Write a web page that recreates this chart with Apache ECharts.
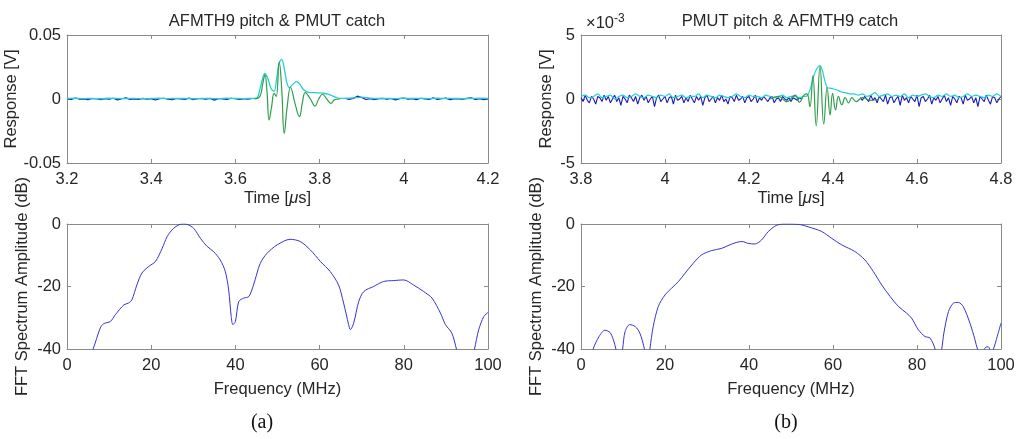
<!DOCTYPE html>
<html><head><meta charset="utf-8">
<script src="https://cdn.jsdelivr.net/npm/echarts@6/dist/echarts.min.js"></script>
<style>html,body{margin:0;padding:0;background:#fff}#c{width:1024px;height:439px}</style>
</head><body><div id="c"></div>
<script>
// ---------- Panel (a) top: AFMTH9 pitch & PMUT catch (Response, V) ----------
const aTimeTicks = [3.2, 3.4, 3.6, 3.8, 4, 4.2];
const aBlueStart = 3.20, aBlueStep = 0.01;
const aBlueV = [
  0.0003,-0.0004,0.0008,-0.0002,0.0001,-0.0005,0.0004,0.0002,-0.0006,0.0003,
  -0.0001,0.0006,-0.0007,0.0002,0.0009,-0.0003,0.0001,-0.0004,0.0005,-0.0002,
  0.0003,-0.0008,0.0002,0.0006,-0.0001,-0.0005,0.0004,0.0001,-0.0003,0.0007,
  -0.0006,0.0002,0.0003,-0.0002,0.0005,-0.0009,0.0004,0.0001,-0.0003,0.0006,
  0.0002,-0.0004,0.0003,-0.0001,0.0004,
  null,null,null,null,null,null,null,null,null,null,null,null,null,null,null,null,null,null,null,null,null,
  0.0006,-0.0003,0.0004,0.0022,0.0012,-0.0004,0.0003,-0.0006,0.0002,0.0005,
  -0.0002,0.0004,-0.0007,0.0003,0.0008,-0.0001,0.0002,-0.0005,0.0006,0.0001,
  -0.0003,0.0009,-0.0004,0.0002,0.0007,-0.0006,0.0003,0.0001,-0.0002,0.0005,
  0.0010,-0.0004,0.0003,-0.0005,0.0002
];
const aGreenT = [3.645,3.658,3.665,3.670,3.675,3.680,3.686,3.692,3.697,3.704,3.710,3.716,3.723,3.731,3.742,3.752,3.759,3.766,3.778,3.789,3.798,3.807,3.817,3.827,3.836,3.848];
const aGreenV = [0,0.002,0.012,0.019,0.006,-0.0164,-0.006,0.0044,0.002,0.029,0.008,-0.0268,-0.006,0.009,-0.004,-0.0138,-0.003,0.005,0,-0.0055,0,0.0037,0,-0.0034,-0.0005,0];
const aCyanPreStart = 3.20, aCyanStep = 0.02;
const aCyanPreV = [0.0004,0.0006,0.0003,0.0005,0.0002,0.0006,0.0004,0.0003,0.0005,0.0002,0.0004,0.0006,0.0003,0.0005,0.0004,0.0002,0.0005,0.0004,0.0003,0.0006,0.0004,0.0003,0.0005];
const aCyanBurstT = [3.645,3.652,3.660,3.670,3.677,3.685,3.692,3.698,3.704,3.710,3.716,3.722,3.728,3.735,3.745,3.752,3.760,3.770,3.780,3.790,3.800,3.810,3.820,3.830,3.840,3.848];
const aCyanBurstV = [0.0005,0.001,0.010,0.020,0.016,0.008,0.006,0.016,0.028,0.031,0.024,0.013,0.009,0.011,0.0135,0.012,0.008,0.0055,0.005,0.005,0.0048,0.0045,0.0038,0.0025,0.0012,0.0005];
const aCyanPostStart = 3.86;
const aCyanPostV = [0.0005,0.0008,0.0015,0.0006,0.0004,0.0005,0.0003,0.0006,0.0004,0.0005,0.0003,0.0006,0.0004,0.0005,0.0003,0.0004,0.0006,0.0004];

// ---------- Panel (b) top: PMUT pitch & AFMTH9 catch (Response, x10^-3 V) ----------
const bTimeTicks = [3.8, 4, 4.2, 4.4, 4.6, 4.8];
const bBlueStart = 3.80, bBlueStep = 0.005;
const bBlueV = [
  0.1,-0.2,0.3,-0.1,-0.3,0.2,0.0,-0.4,0.2,0.1,
  -0.2,0.3,-0.1,0.2,-0.3,0.0,0.3,-0.2,0.1,-0.5,
  0.2,0.0,-0.3,0.3,0.1,-0.2,0.2,-0.4,0.1,0.3,
  -0.1,0.2,-0.3,0.0,0.2,-0.6,0.1,0.3,-0.2,0.0,
  0.2,-0.3,0.1,0.2,-0.4,0.3,-0.1,0.0,0.2,-0.3,
  0.1,-0.2,0.3,0.0,-0.3,0.2,-0.1,0.2,-0.5,0.1,
  0.3,-0.2,0.0,0.2,-0.3,0.1,-0.1,0.3,-0.2,0.0,
  -0.4,0.2,0.1,-0.2,0.3,-0.1,0.0,0.2,-0.3,0.1,
  0.2,-0.2,0.0,0.3,-0.3,0.1,-0.1,0.2,0.0,-0.2,
  0.1,0.2,-0.3,0.0,0.1,-0.2,0.2,0.0,-0.1,0.1,
  -0.2,0.1,0.0,-0.1,0.1,0.0,
  null,null,null,null,null,null,null,null,null,null,null,null,null,null,null,null,null,null,null,null,null,null,null,null,null,null,null,
  0.1,-0.1,0.2,0.0,-0.2,0.3,-0.1,0.1,-0.3,0.2,
  0.0,-0.2,0.3,-0.4,0.1,0.2,-0.3,0.0,0.2,-0.5,
  0.3,-0.1,0.1,-0.3,0.2,0.0,-0.2,0.3,-0.6,0.1,
  0.2,-0.2,0.0,0.3,-0.4,0.1,-0.1,0.2,-0.3,0.0,
  0.3,-0.2,0.1,-0.5,0.2,0.0,-0.3,0.2,0.1,-0.4,
  0.3,-0.1,0.0,0.2,-0.3,0.1,-0.6,0.2,0.0,-0.2,
  0.3,-0.1,-0.4,0.2,0.1,-0.3,0.0,0.2
];
const bGreenT = [4.25,4.27,4.29,4.31,4.32,4.331,4.338,4.345,4.352,4.360,4.369,4.378,4.386,4.393,4.399,4.406,4.413,4.421,4.429,4.437,4.445,4.455,4.47,4.49,4.51];
const bGreenV = [0,0.2,-0.2,0.3,-0.25,0.3,0.4,-0.6,1.8,-2.1,2.55,-1.95,0.9,-1.25,0.45,-0.85,0.2,-0.45,0.1,-0.3,0.1,-0.2,0.1,-0.1,0];
const bCyanPreStart = 3.80, bCyanStep = 0.01;
const bCyanPreV = [
  0.2,0.3,0.1,0.2,0.4,0.1,0.2,0.3,0.0,0.2,
  0.3,0.1,0.2,0.4,0.2,0.1,0.3,0.2,0.1,0.3,
  0.2,0.4,0.1,0.2,0.3,0.1,0.2,0.2,0.4,0.1,
  0.3,0.2,0.1,0.3,0.2,0.1,0.2,0.4,0.2,0.1,
  0.3,0.2,0.2,0.1,0.3,0.2,0.1,0.2,0.3,0.1,
  0.2,0.2,0.1,0.2
];
const bCyanBurstT = [4.334,4.340,4.347,4.354,4.362,4.369,4.374,4.380,4.386,4.392,4.400,4.410,4.420,4.430,4.440];
const bCyanBurstV = [0.2,0.3,0.9,1.8,2.4,2.6,2.3,1.5,0.9,0.85,0.8,0.7,0.55,0.5,0.4];
const bCyanPostStart = 4.45;
const bCyanPostV = [
  0.4,0.3,0.4,0.2,0.3,0.5,0.2,0.3,0.4,0.2,
  0.3,0.2,0.4,0.1,0.3,0.2,0.3,0.4,0.2,0.1,
  0.3,0.2,0.4,0.2,0.3,0.1,0.2,0.4,0.2,0.3,
  0.2,0.1,0.3,0.2,0.4,0.2
];

// ---------- FFT spectra (dB) ----------
const freqTicks = [0, 20, 40, 60, 80, 100];
const aFftF = [4,6.2,7.9,8.7,10.3,11.5,13.5,14.6,15.4,16.6,17.8,19.4,21.0,22.6,23.8,25.3,26.9,27.7,28.5,30.1,31.7,33.3,34.8,36.4,37.6,38.4,39.0,39.4,40.0,40.8,42.0,43.2,44.3,45.9,47.5,49.9,53.0,55.4,57.8,60.2,62.5,64.5,65.7,66.9,67.3,68.1,69.3,70.5,72.8,75.2,77.6,80.0,82.3,84.7,86.7,88.7,89.9,91.4,92.5,94,95.5,96.8,97.8,99.0,100];
const aFftDb = [-47,-40,-33.3,-31.9,-31.2,-29.0,-25.9,-25.3,-24.3,-19.5,-15.7,-13.6,-12.0,-7.8,-4.0,-1.4,-0.1,0,-0.1,-1.4,-4.6,-7.2,-8.8,-11.5,-15.2,-21.1,-29.6,-32.2,-31.2,-24.8,-23.7,-23.2,-19.5,-12.6,-9.4,-6.7,-4.9,-5.6,-8.3,-12.0,-15.2,-19.5,-25.3,-32.2,-33.8,-31.7,-24.8,-21.6,-20.0,-18.4,-18.1,-17.9,-19.5,-21.6,-23.7,-28.5,-32.2,-34.9,-40,-48,-48,-40,-33.8,-29.6,-28.3];
const bFftF = [2,2.9,4.3,5.7,6.9,7.7,8.3,9.1,9.9,10.5,11.6,12.9,14.0,15.1,15.8,16.4,17.2,18.4,20.0,21.6,23.2,24.8,26.7,28.7,31.1,33.5,35.9,38.3,39.8,41.4,43.0,44.6,46.6,48.6,51.7,54.1,57.3,59.7,62.1,65.2,67.6,69.6,71.6,73.6,75.6,77.5,78.7,80.3,81.9,83.1,84.3,85.1,85.9,86.4,87.5,88.7,89.8,91.0,92.6,93.8,94.4,95.3,96.3,97.0,97.6,98.2,99.1,100];
const bFftDb = [-45,-40,-36.0,-34.0,-34.7,-37.0,-40,-46,-40,-34.4,-32.2,-32.8,-34.9,-40,-46,-40,-32.8,-26.4,-22.7,-20.5,-18.4,-15.7,-12.6,-9.9,-8.5,-7.8,-6.4,-5.6,-6.2,-6.4,-5.1,-2.4,-0.4,0,-0.1,-0.9,-2.4,-4.6,-6.7,-8.8,-11.5,-15.2,-19.5,-23.2,-26.4,-28.5,-30.1,-33.8,-36.0,-36.5,-40,-46,-40,-34.9,-28.0,-25.3,-25.1,-26.4,-31.7,-37.0,-40,-42,-39.5,-39.3,-41,-40,-36,-31.7];

// ---------- helpers ----------
const FONT = '"Liberation Sans", Arial, Helvetica, sans-serif';
const FS = 16.5;
const TX = '#262626';
const AX = '#8a8a8a';
const C_BLUE = '#1a1ab4', C_GREEN = '#2f9e4c', C_CYAN = '#22d0d0', C_FFT = '#3434d2';

function seg(start, step, vals) { return vals.map((v, i) => [+(start + i * step).toFixed(4), v]); }
function pairs(ts, vs) { return ts.map((t, i) => [t, vs[i]]); }
function fmtNum(v) { return String(Math.round(v * 1000) / 1000); }

function xAxes(grid, ticks, name, nameGap) {
  const min = ticks[0], max = ticks[ticks.length - 1], interval = ticks[1] - ticks[0];
  const common = { gridIndex: grid, type: 'value', min, max, interval: +interval.toFixed(4), splitLine: { show: false },
    axisLine: { show: true, onZero: false, lineStyle: { color: AX, width: 1 } },
    axisTick: { show: true, inside: true, length: 4, lineStyle: { color: AX } } };
  return [
    Object.assign({}, common, { position: 'bottom', name, nameLocation: 'middle', nameGap,
      nameTextStyle: { color: TX, fontSize: FS, fontFamily: FONT,
        rich: { mu: { fontStyle: 'italic', color: TX, fontSize: FS, fontFamily: FONT } } },
      axisLabel: { color: TX, fontSize: FS, fontFamily: FONT, margin: 8, formatter: fmtNum } }),
    Object.assign({}, common, { position: 'top', axisLabel: { show: false } })
  ];
}
function yAxes(grid, ticks, name, nameGap) {
  const min = ticks[0], max = ticks[ticks.length - 1], interval = ticks[1] - ticks[0];
  const common = { gridIndex: grid, type: 'value', min, max, interval, splitLine: { show: false },
    axisLine: { show: true, onZero: false, lineStyle: { color: AX, width: 1 } },
    axisTick: { show: true, inside: true, length: 4, lineStyle: { color: AX } } };
  return [
    Object.assign({}, common, { position: 'left', name, nameLocation: 'middle', nameGap, nameRotate: 90,
      nameTextStyle: { color: TX, fontSize: FS, fontFamily: FONT },
      axisLabel: { color: TX, fontSize: FS, fontFamily: FONT, margin: 6, formatter: fmtNum } }),
    Object.assign({}, common, { position: 'right', axisLabel: { show: false } })
  ];
}
function line(ax, data, color, width, smooth) {
  return { type: 'line', xAxisIndex: ax, yAxisIndex: ax, data, symbol: 'none', showSymbol: false,
    connectNulls: false, clip: true, smooth: smooth || false, silent: true,
    lineStyle: { color, width }, emphasis: { disabled: true } };
}

const respTicksA = [-0.05, 0, 0.05];
const respTicksB = [-5, 0, 5];
const fftTicks = [-40, -20, 0];

const option = {
  animation: false,
  backgroundColor: '#ffffff',
  grid: [
    { left: 67, top: 35, width: 421, height: 128 },
    { left: 67, top: 224, width: 421, height: 125 },
    { left: 581, top: 35, width: 420, height: 128 },
    { left: 581, top: 224, width: 420, height: 125 }
  ],
  xAxis: [].concat(
    xAxes(0, aTimeTicks, 'Time [{mu|μ}s]', 27),
    xAxes(1, freqTicks, 'Frequency (MHz)', 32),
    xAxes(2, bTimeTicks, 'Time [{mu|μ}s]', 27),
    xAxes(3, freqTicks, 'Frequency (MHz)', 32)
  ),
  yAxis: [].concat(
    yAxes(0, respTicksA, 'Response [V]', 34),
    yAxes(1, fftTicks, 'FFT Spectrum Amplitude (dB)', 36),
    yAxes(2, respTicksB, 'Response [V]', 26),
    yAxes(3, fftTicks, 'FFT Spectrum Amplitude (dB)', 36)
  ),
  title: [{
    left: 581, top: 8,
    text: '×10{s|-3}',
    textStyle: { color: TX, fontSize: FS, fontWeight: 'normal', fontFamily: FONT,
      rich: { s: { fontSize: 12, verticalAlign: 'top', padding: [0, 0, 8, 0], color: TX, fontFamily: FONT } } }
  }],
  graphic: [
    { type: 'text', x: 277, y: 21, silent: true, style: { text: 'AFMTH9 pitch & PMUT catch', align: 'center', verticalAlign: 'middle', fill: TX, font: FS + 'px ' + FONT } },
    { type: 'text', x: 790, y: 21, silent: true, style: { text: 'PMUT pitch & AFMTH9 catch', align: 'center', verticalAlign: 'middle', fill: TX, font: FS + 'px ' + FONT } },
    { type: 'text', x: 262, y: 423, silent: true, style: { text: '(a)', align: 'center', verticalAlign: 'middle', fill: '#111', font: '20px "Liberation Serif", "Times New Roman", serif' } },
    { type: 'text', x: 786, y: 423, silent: true, style: { text: '(b)', align: 'center', verticalAlign: 'middle', fill: '#111', font: '20px "Liberation Serif", "Times New Roman", serif' } }
  ],
  series: [
    line(0, seg(aBlueStart, aBlueStep, aBlueV), C_BLUE, 1.2),
    line(0, [].concat(seg(aCyanPreStart, aCyanStep, aCyanPreV), pairs(aCyanBurstT, aCyanBurstV), seg(aCyanPostStart, aCyanStep, aCyanPostV)), C_CYAN, 1.3, 0.35),
    line(0, pairs(aGreenT, aGreenV), C_GREEN, 1.2, 0.45),
    line(2, pairs(aFftF, aFftDb), C_FFT, 1, 0.3),
    line(4, seg(bBlueStart, bBlueStep, bBlueV), C_BLUE, 1.1),
    line(4, [].concat(seg(bCyanPreStart, bCyanStep, bCyanPreV), pairs(bCyanBurstT, bCyanBurstV), seg(bCyanPostStart, bCyanStep, bCyanPostV)), C_CYAN, 1.2, 0.3),
    line(4, pairs(bGreenT, bGreenV), C_GREEN, 1.2, 0.45),
    line(6, pairs(bFftF, bFftDb), C_FFT, 1, 0.3)
  ]
};
const chart = echarts.init(document.getElementById('c'), null, { renderer: 'canvas' });
chart.setOption(option);
</script></body></html>
